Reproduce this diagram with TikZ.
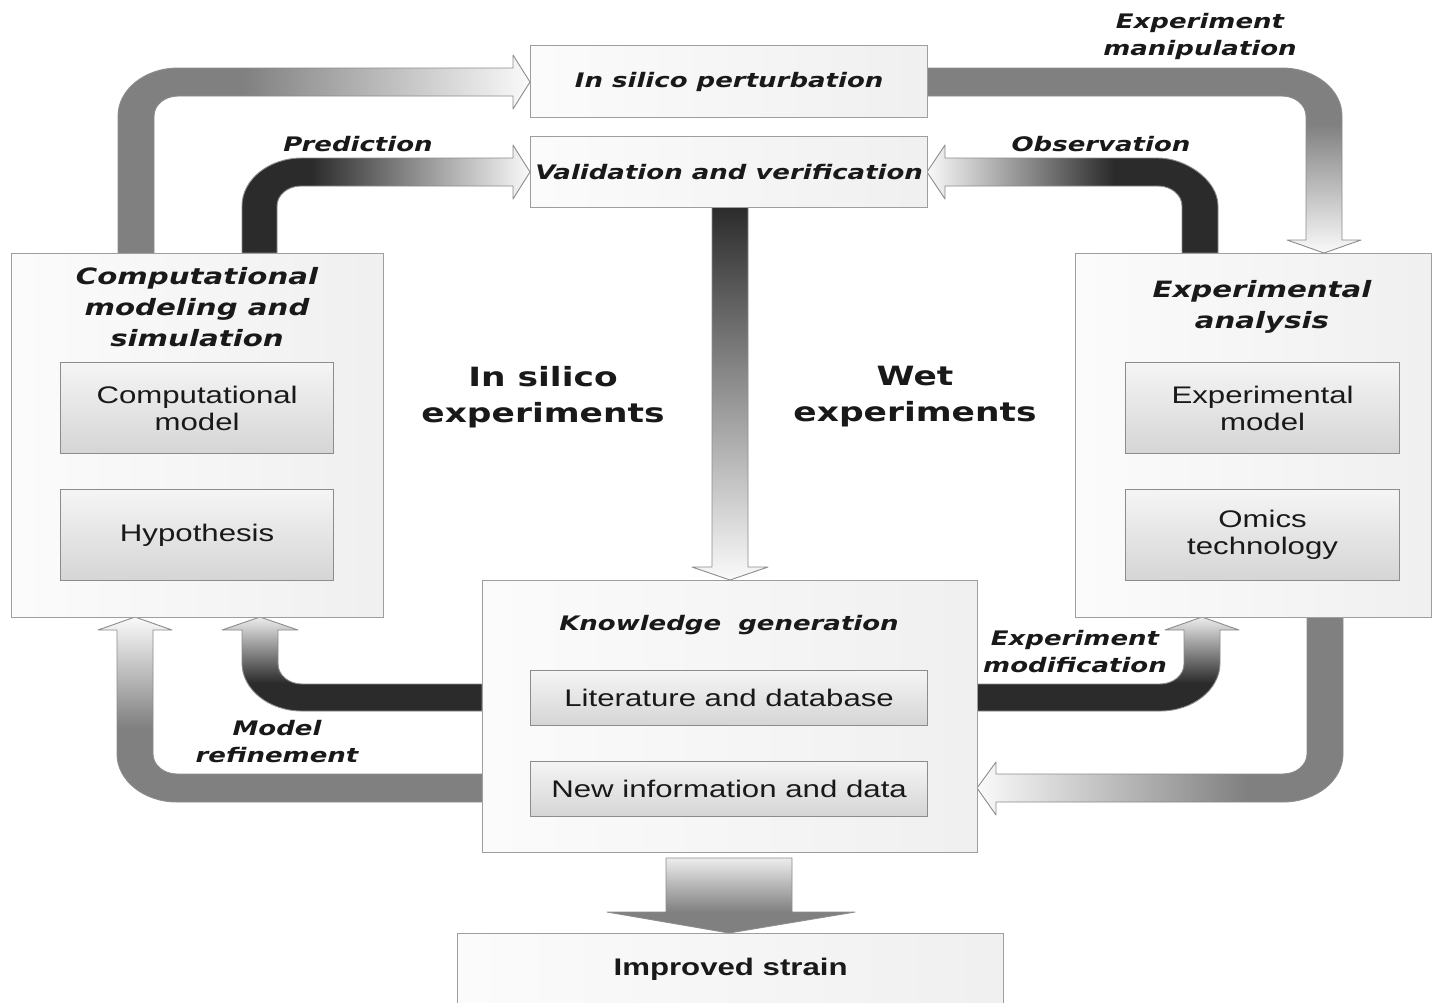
\documentclass[tikz,border=0pt]{standalone}
\usepackage{fontspec}
\newfontfamily\djv{DejaVu Sans}[FakeStretch=1.3]
\newfontfamily\lib{Liberation Sans}[FakeStretch=1.3]
\definecolor{bgray}{gray}{0.5}
\definecolor{bdark}{gray}{0.17}
\definecolor{bwhite}{gray}{0.98}
\definecolor{blight}{gray}{0.93}
\definecolor{bline}{gray}{0.55}
\definecolor{boxline}{gray}{0.62}
\definecolor{txt}{gray}{0.1}
\pgfdeclarehorizontalshading{shAone}{100bp}{color(0bp)=(bgray); color(25bp)=(bgray); color(40bp)=(bgray); color(75bp)=(bwhite); color(100bp)=(bwhite)}
\pgfdeclarehorizontalshading{shAtwo}{100bp}{color(0bp)=(bdark); color(25bp)=(bdark); color(37bp)=(bdark); color(75bp)=(bwhite); color(100bp)=(bwhite)}
\pgfdeclarehorizontalshading{shAfour}{100bp}{color(0bp)=(bwhite); color(25bp)=(bwhite); color(57bp)=(bdark); color(75bp)=(bdark); color(100bp)=(bdark)}
\pgfdeclarehorizontalshading{shAnine}{100bp}{color(0bp)=(bwhite); color(25bp)=(bwhite); color(62bp)=(bgray); color(75bp)=(bgray); color(100bp)=(bgray)}
\pgfdeclareverticalshading{shAthree}{100bp}{color(0bp)=(bwhite); color(25bp)=(bwhite); color(60bp)=(bgray); color(75bp)=(bgray); color(100bp)=(bgray)}
\pgfdeclareverticalshading{shAfive}{100bp}{color(0bp)=(bwhite); color(25bp)=(bwhite); color(75bp)=(bdark); color(100bp)=(bdark)}
\pgfdeclareverticalshading{shAsix}{100bp}{color(0bp)=(bgray); color(25bp)=(bgray); color(45bp)=(bgray); color(75bp)=(bwhite); color(100bp)=(bwhite)}
\pgfdeclareverticalshading{shAseven}{100bp}{color(0bp)=(bdark); color(25bp)=(bdark); color(40bp)=(bdark); color(75bp)=(blight); color(100bp)=(blight)}
\pgfdeclareverticalshading{shAten}{100bp}{color(0bp)=(bgray); color(25bp)=(bgray); color(39bp)=(bgray); color(75bp)=(blight); color(100bp)=(blight)}
\begin{document}
\begin{tikzpicture}[x=1pt,y=-1pt,
  band/.style={draw=bline, line width=0.9pt, line join=round},
  lab/.style={font={\djv\bfseries\itshape\fontsize{20}{27}\selectfont}, text=txt, align=center, inner sep=0},
  titlef/.style={font={\djv\bfseries\itshape\fontsize{22.5}{31}\selectfont}, text=txt, align=center, inner sep=0},
  bigf/.style={font={\djv\bfseries\fontsize{26.5}{36}\selectfont}, text=txt, align=center, inner sep=0},
  outerbox/.style={draw=boxline, line width=1.3pt, left color=gray!3, right color=gray!12, inner sep=0, anchor=north west},
  innerbox/.style={draw=bline, line width=1.2pt, top color=gray!8, bottom color=gray!33, inner sep=0, anchor=north west, align=center, text=txt, font={\lib\fontsize{24}{27}\selectfont}}
]
\fill[white] (0,0) rectangle (1432,1002);
\useasboundingbox (0,0) rectangle (1432,1002);

% ---------- bands (connectors) ----------
% A1: computational -> in silico perturbation
\shadedraw[band, shading=shAone] (118,253) -- (118,116) .. controls (118,89.5) and (144.9,68) .. (178,68) -- (513,68) -- (513,55) -- (530,82) -- (513,109) -- (513,96) -- (178,96) .. controls (164.7,96) and (154,105) .. (154,116) -- (154,253) -- cycle;
% A2: prediction
\shadedraw[band, shading=shAtwo] (242,253) -- (242,206) .. controls (242,179.5) and (268.9,158) .. (302,158) -- (513,158) -- (513,145) -- (530,172) -- (513,199) -- (513,186) -- (301,186) .. controls (287.7,186) and (277,195) .. (277,206) -- (277,253) -- cycle;
% A3: experiment manipulation
\shadedraw[band, shading=shAthree] (927,68) -- (1282,68) .. controls (1315.1,68) and (1342,89.5) .. (1342,116) -- (1342,240) -- (1361,240) -- (1324,253) -- (1287,240) -- (1306,240) -- (1306,116) .. controls (1306,105) and (1295.3,96) .. (1282,96) -- (927,96) -- cycle;
% A4: observation
\shadedraw[band, shading=shAfour] (1218,253) -- (1218,206) .. controls (1218,179.5) and (1184.9,158) .. (1158,158) -- (945,158) -- (945,145) -- (927,172) -- (945,199) -- (945,186) -- (1158,186) .. controls (1171.3,186) and (1182,195) .. (1182,206) -- (1182,253) -- cycle;
% A5: validation -> knowledge
\shadedraw[band, shading=shAfive] (712,207) -- (748,207) -- (748,567) -- (768,567) -- (730,580) -- (692,567) -- (712,567) -- cycle;
% A6: model refinement (outer)
\shadedraw[band, shading=shAsix] (482,802) -- (177,802) .. controls (143.9,802) and (117,780.5) .. (117,754) -- (117,630) -- (98,630) -- (135,617) -- (172,630) -- (153,630) -- (153,754) .. controls (153,765) and (163.7,774) .. (177,774) -- (482,774) -- cycle;
% A7: model refinement (inner)
\shadedraw[band, shading=shAseven] (482,711) -- (302,711) .. controls (268.9,711) and (242,689.5) .. (242,663) -- (242,630) -- (222,630) -- (260,617) -- (298,630) -- (278,630) -- (278,664) .. controls (278,675) and (288.7,684) .. (302,684) -- (482,684) -- cycle;
% A8: experiment modification
\shadedraw[band, shading=shAseven] (977,711) -- (1160,711) .. controls (1193.1,711) and (1220,689.5) .. (1220,663) -- (1220,630) -- (1239,630) -- (1202,617) -- (1165,630) -- (1184,630) -- (1184,664) .. controls (1184,675) and (1173.3,684) .. (1160,684) -- (977,684) -- cycle;
% A9: experimental -> knowledge
\shadedraw[band, shading=shAnine] (1307,617) -- (1343,617) -- (1343,754) .. controls (1343,780.5) and (1316.1,802) .. (1283,802) -- (996,802) -- (996,815) -- (977,788) -- (996,762) -- (996,774) -- (1283,774) .. controls (1296.3,774) and (1307,765) .. (1307,754) -- cycle;
% A10: knowledge -> improved strain
\shadedraw[band, shading=shAten] (666,858) -- (792,858) -- (792,912) -- (855,912) -- (729,933) -- (607,912) -- (666,912) -- cycle;

% ---------- boxes ----------
\node[outerbox, minimum width=397, minimum height=72, lab] (pert) at (530,45) {In silico perturbation};
\node[outerbox, minimum width=397, minimum height=71, lab] (valid) at (530,136) {Validation and verification};
\node[outerbox, minimum width=372, minimum height=364] (comp) at (11,253) {};
\node[outerbox, minimum width=356, minimum height=364] (expa) at (1075,253) {};
\node[outerbox, minimum width=495, minimum height=272] (know) at (482,580) {};
\node[outerbox, minimum width=546, minimum height=72, font={\lib\bfseries\fontsize{24}{27}\selectfont}, text=txt] (strain) at (457,933) {Improved strain};

\node[innerbox, minimum width=273, minimum height=91] (cmodel) at (60,362) {Computational\\model};
\node[innerbox, minimum width=273, minimum height=91] (hyp) at (60,489) {Hypothesis};
\node[innerbox, minimum width=274, minimum height=91] (emodel) at (1125,362) {Experimental\\model};
\node[innerbox, minimum width=274, minimum height=91] (omics) at (1125,489) {Omics\\technology};
\node[innerbox, minimum width=397, minimum height=55] (lit) at (530,670) {Literature and database};
\node[innerbox, minimum width=397, minimum height=55] (newinfo) at (530,761) {New information and data};

% ---------- titles and labels ----------
\node[titlef] (comptitle) at (197,307) {Computational\\modeling and\\simulation};
\node[titlef] (exptitle) at (1262,307) {Experimental\\analysis};
\node[lab] (kgtitle) at (729,625) {Knowledge\hspace{0.4em} generation};
\node[bigf] (insilico) at (543,397) {In silico\\experiments};
\node[bigf] (wet) at (915,397) {Wet\\experiments};
\node[lab] (pred) at (358,144) {Prediction};
\node[lab] (obs) at (1101,144) {Observation};
\node[lab] (manip) at (1200,36) {Experiment\\manipulation};
\node[lab] (modif) at (1075,652) {Experiment\\modification};
\node[lab] (refine) at (277,742) {Model\\refinement};
\end{tikzpicture}
\end{document}
